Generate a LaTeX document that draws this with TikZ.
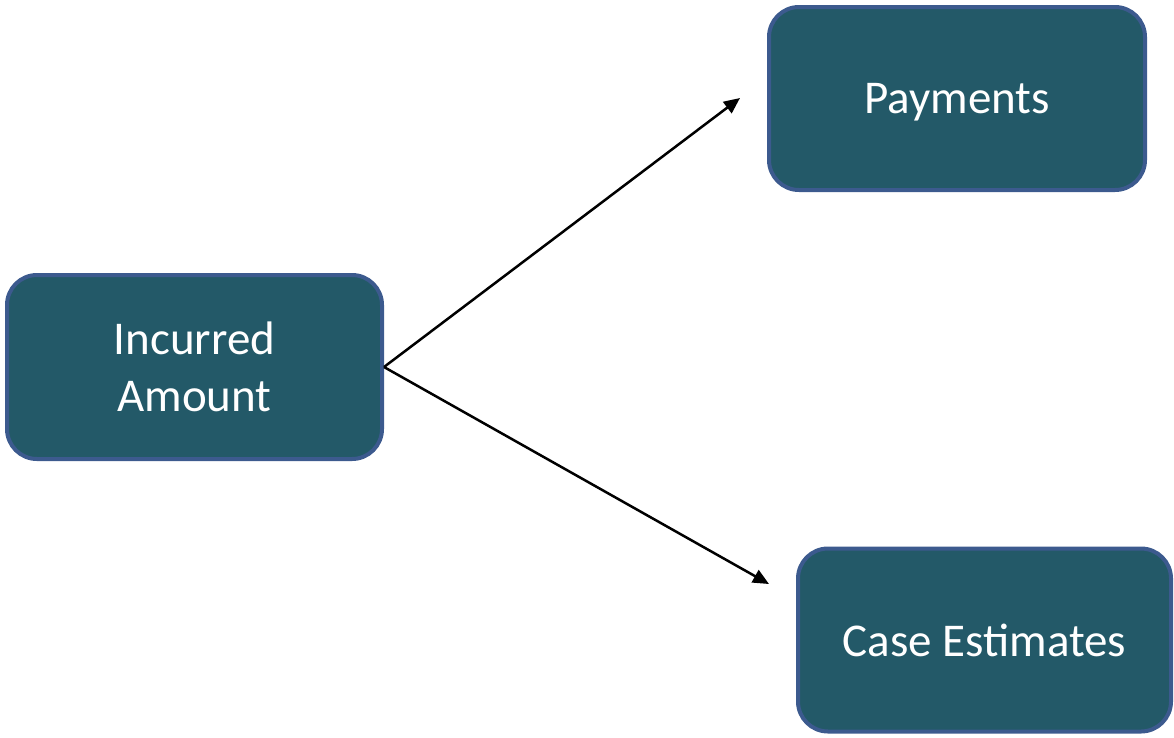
\documentclass[tikz,border=0pt]{standalone}
\usepackage{fontspec}
\setmainfont{Carlito}
\usetikzlibrary{arrows.meta}
\definecolor{boxfill}{RGB}{35,89,104}
\definecolor{boxedge}{RGB}{60,90,142}
\begin{document}
\begin{tikzpicture}[x=1pt,y=-1pt,
  box/.style={draw=boxedge,fill=boxfill,line width=4pt,rounded corners=30pt,
    text=white,font=\fontsize{47}{57}\selectfont,align=center,
    inner sep=0pt,outer sep=0pt},
  link/.style={line width=2.5pt,-{Triangle[length=16pt,width=14pt]}}]
\useasboundingbox (0,0) rectangle (1174,737);
\node[box,minimum width=375pt,minimum height=184pt] (inc) at (194.5,367) {Incurred\\Amount};
\node[box,minimum width=376pt,minimum height=183pt,text depth=0pt] (pay) at (957,98.5) {Payments};
\node[box,minimum width=373pt,minimum height=183pt] (cas) at (984.5,640) {Case Estimates};
\coordinate (src) at (384,367);
\coordinate (tipA) at (740,98);
\coordinate (tipB) at (769,584);
\draw[link] (src) -- (tipA);
\draw[link] (src) -- (tipB);
\end{tikzpicture}
\end{document}
